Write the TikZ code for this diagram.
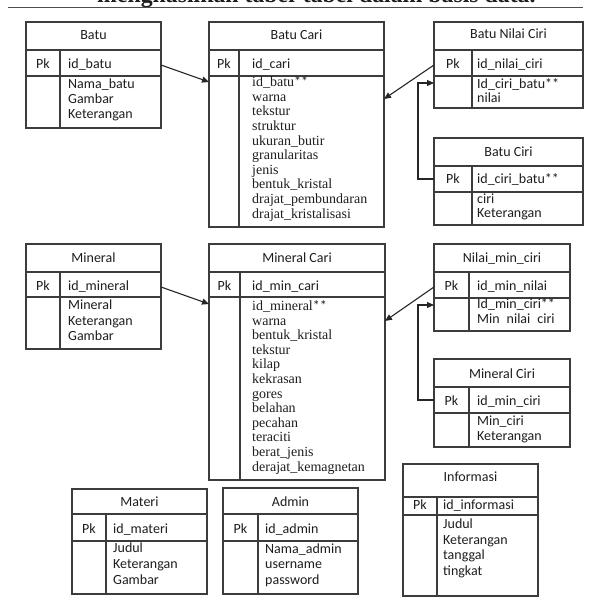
\documentclass[tikz,border=0pt]{standalone}
\usepackage{fontspec}
\setmainfont{Liberation Serif}
\newfontfamily\carlito{Carlito}
\usetikzlibrary{fit,calc,arrows.meta}
\definecolor{ln}{HTML}{3C3C3C}
\definecolor{tx}{HTML}{1E1E1E}
\tikzset{
  cell/.style={draw=ln, line width=1.3pt, inner sep=0pt, outer sep=0pt},
  ttl/.style={font=\carlito\fontsize{14}{15}\selectfont, text=tx, inner sep=0pt},
  lst/.style={align=left, text=tx, inner sep=0pt, anchor=north west},
  conn/.style={draw=black!85, line width=1.1pt, -{Triangle[length=7pt,width=6pt]}},
}
\newcommand\sfl[1]{\carlito\fontsize{14}{#1}\selectfont}
\newcommand\sel[1]{\rmfamily\fontsize{14}{#1}\selectfont}
% name, x1, xd, x2, y1, yh, yp, y2
\newcommand\ertab[8]{%
  \node[cell, fit={(#2,#5)(#4,#6)}] (#1-h) {};
  \node[cell, fit={(#2,#6)(#3,#7)}] (#1-pl) {};
  \node[cell, fit={(#3,#6)(#4,#7)}] (#1-pk) {};
  \node[cell, fit={(#2,#7)(#3,#8)}] (#1-bl) {};
  \node[cell, fit={(#3,#7)(#4,#8)}] (#1-br) {};
}
\newcommand\ertitle[3]{\node[ttl, anchor=base] (#1-t) at ([yshift=-#2pt]#1-h.center) {#3};}
% name, xoff, yshift, text
\newcommand\erpk[4]{%
  \node[ttl, anchor=base] (#1-plt) at ([yshift=-#3pt]#1-pl.center) {Pk};
  \node[ttl, anchor=base west] (#1-pkt) at ([xshift=#2pt,yshift=-#3pt]#1-pk.west) {#4};}
% name, xoff, gap, font, lines
\newcommand\erbody[5]{%
  \node[lst, font=#4] (#1-bt) at ([xshift=#2pt,yshift=-#3pt]#1-br.north west) {\rule{0pt}{10pt}#5};}
\begin{document}
\begin{tikzpicture}[x=1pt,y=-1pt]
\useasboundingbox (0,0) rectangle (589,610);
\fill[white] (0,0) rectangle (589,610);
\begin{scope}
\clip (0,0) rectangle (589,610);
\node[font=\fontsize{23.8}{24}\selectfont\bfseries, text=tx, anchor=base west, inner sep=0pt] (title) at (97,3) {menghasilkan tabel-tabel dalam basis data.};
\end{scope}
\coordinate (rl) at (8,7.5);
\coordinate (rr) at (583,7.5);
\draw[draw=black!70, line width=1.2pt] (rl) -- (rr);

% Batu
\ertab{batu}{26}{60}{161}{22}{50}{76}{128}
\ertitle{batu}{4}{Batu}
\erpk{batu}{8}{5.3}{id\_batu}
\erbody{batu}{8}{2.3}{\sfl{15}}{Nama\_batu\\Gambar\\Keterangan}

% Batu Cari
\ertab{bcari}{209}{239}{384}{22}{50}{76}{227}
\ertitle{bcari}{4}{Batu Cari}
\erpk{bcari}{13}{5.3}{id\_cari}
\erbody{bcari}{13}{0.2}{\sel{14.65}}{id\_batu{\carlito**}\\warna\\tekstur\\struktur\\ukuran\_butir\\granularitas\\jenis\\bentuk\_kristal\\drajat\_pembundaran\\drajat\_kristalisasi}

% Batu Nilai Ciri
\ertab{bnc}{434}{472}{583}{22}{50}{76}{108}
\ertitle{bnc}{3}{Batu Nilai Ciri}
\erpk{bnc}{5}{5.3}{id\_nilai\_ciri}
\erbody{bnc}{5}{2.3}{\sfl{14}}{Id\_ciri\_batu**\\nilai}

% Batu Ciri
\ertab{bciri}{434}{472}{583}{138}{166}{192}{225}
\ertitle{bciri}{4.7}{Batu Ciri}
\erpk{bciri}{5}{4.3}{id\_ciri\_batu**}
\erbody{bciri}{5}{1.3}{\sfl{14}}{ciri\\Keterangan}

% Mineral
\ertab{mineral}{26}{60}{161}{244}{272}{297}{349}
\ertitle{mineral}{4.3}{Mineral}
\erpk{mineral}{8}{5.5}{id\_mineral}
\erbody{mineral}{8}{2.3}{\sfl{15.5}}{Mineral\\Keterangan\\Gambar}

% Mineral Cari
\ertab{mcari}{209}{240}{385}{244}{272}{297}{480}
\ertitle{mcari}{4.3}{Mineral Cari}
\erpk{mcari}{12}{5.8}{id\_min\_cari}
\erbody{mcari}{12}{3.2}{\sel{14.6}}{id\_mineral{\carlito**}\\warna\\bentuk\_kristal\\tekstur\\kilap\\kekrasan\\gores\\belahan\\pecahan\\teraciti\\berat\_jenis\\derajat\_kemagnetan}

% Nilai_min_ciri
\ertab{nmc}{434}{469}{570}{244}{272}{298}{331}
\ertitle{nmc}{4.3}{Nilai\_min\_ciri}
\erpk{nmc}{8}{5}{id\_min\_nilai}
\erbody{nmc}{8}{0.3}{\sfl{15}}{Id\_min\_ciri**\\Min\enspace nilai\enspace ciri}

% Mineral Ciri
\ertab{mciri}{434}{469}{570}{359}{387}{413}{447}
\ertitle{mciri}{5.3}{Mineral Ciri}
\erpk{mciri}{8}{5}{id\_min\_ciri}
\erbody{mciri}{8}{2}{\sfl{15.3}}{Min\_ciri\\Keterangan}

% Materi
\ertab{materi}{72}{106}{207}{489}{514}{541}{594}
\ertitle{materi}{5.2}{Materi}
\erpk{materi}{7}{5.8}{id\_materi}
\erbody{materi}{7}{1.3}{\sfl{15.8}}{Judul\\Keterangan\\Gambar}

% Admin
\ertab{admin}{223}{258}{358}{488}{514}{541}{594}
\ertitle{admin}{5.7}{Admin}
\erpk{admin}{7}{5.8}{id\_admin}
\erbody{admin}{7}{2.3}{\sfl{15.3}}{Nama\_admin\\username\\password}

% Informasi
\ertab{info}{403}{437}{538}{464}{497}{515}{596}
\ertitle{info}{1.2}{Informasi}
\erpk{info}{6}{3.3}{id\_informasi}
\erbody{info}{6}{3.3}{\sfl{15.5}}{Judul\\Keterangan\\tanggal\\tingkat}

% connectors
\draw[conn] ([yshift=-2pt]batu-pk.east) -- ([yshift=-6pt]bcari-bl.north west);
\draw[conn] ([yshift=-2pt]bnc-pl.west) -- ([yshift=-23pt]bcari-br.north east);
\draw[conn] (bciri-pl.west) -- ++(-16,0) |- ([yshift=-7pt]bnc-bl.north west);
\draw[conn] ([yshift=-2.5pt]mineral-pk.east) -- ([yshift=-7pt]mcari-bl.north west);
\draw[conn] ([yshift=-2pt]nmc-pl.west) -- ([yshift=-24pt]mcari-br.north east);
\draw[conn] (mciri-pl.west) -- ++(-16,0) |- ([yshift=-7pt]nmc-bl.north west);
\end{tikzpicture}
\end{document}
